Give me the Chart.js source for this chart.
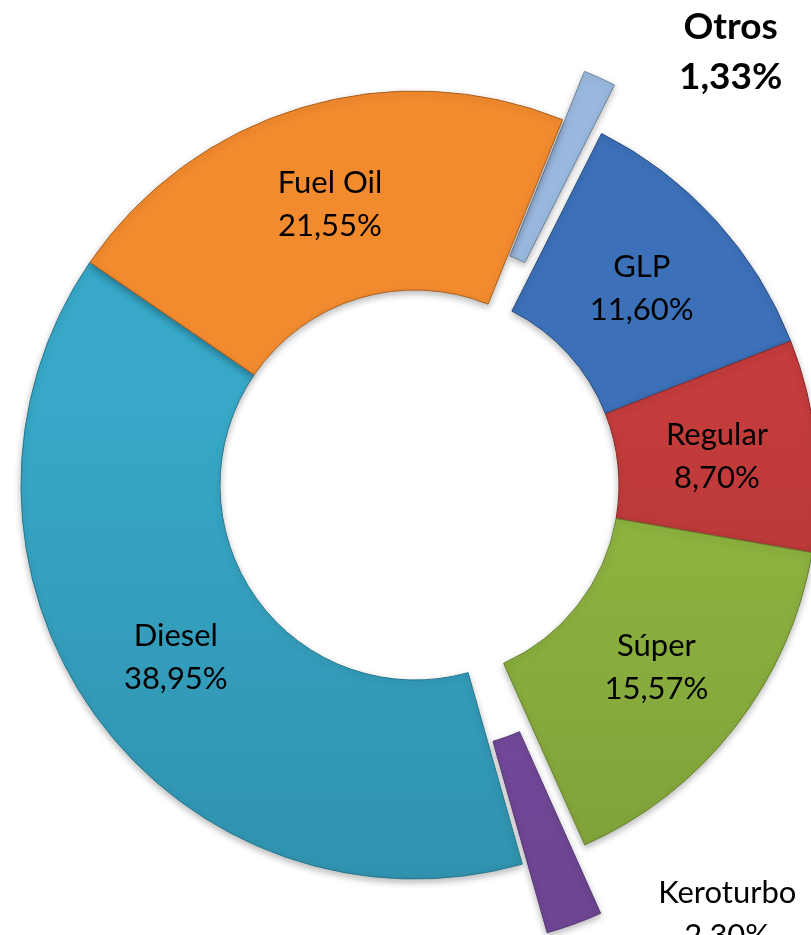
<!DOCTYPE html>
<html>
<head>
<meta charset="utf-8">
<script src="https://cdn.jsdelivr.net/npm/chart.js@4.4.1/dist/chart.umd.min.js"></script>
<style>
    html, body { margin: 0; padding: 0; background: #fff; overflow: hidden; }
    #wrap { position: relative; width: 811px; height: 935px; }
</style>
</head>
<body>
<div id="wrap"><canvas id="consumoChart"></canvas></div>
<script>
// datos del gráfico
const categorias = ['Otros', 'GLP', 'Regular', 'Súper', 'Keroturbo', 'Diesel', 'Fuel Oil'];
const porcentajes = [1.33, 11.60, 8.70, 15.57, 2.30, 38.95, 21.55];
const colores = ['#9AB8DE', '#3C70B8', '#C43C3C', '#92B941', '#7D4FA8', '#37A8C8', '#F28A2E'];

// porciones separadas del anillo (los índices de un grupo se mueven juntos)
const separaciones = [
    { indices: [0], dist: 53 },
    { indices: [1, 2, 3], dist: 9 },
    { indices: [4], dist: 73 }
];

// etiquetas que van fuera del anillo (ángulo desde arriba en grados, distancia al centro)
const etiquetasFuera = {
    0: { angulo: 36.0, dist: 537, negrita: true },
    4: { angulo: 143.9, dist: 530, negrita: false }
};

const formatear = (v) => v.toFixed(2).replace('.', ',') + '%';

const ajustarColor = (hex, f) => {
    const n = parseInt(hex.slice(1), 16);
    let r = (n >> 16) & 255, g = (n >> 8) & 255, b = n & 255;
    if (f >= 0) {
        r += (255 - r) * f; g += (255 - g) * f; b += (255 - b) * f;
    } else {
        r *= 1 + f; g *= 1 + f; b *= 1 + f;
    }
    return `rgb(${Math.round(r)}, ${Math.round(g)}, ${Math.round(b)})`;
};

const desplazamiento = (meta, i) => {
    for (const g of separaciones) {
        if (g.indices.includes(i)) {
            const a0 = meta.data[g.indices[0]].startAngle;
            const a1 = meta.data[g.indices[g.indices.length - 1]].endAngle;
            const mid = (a0 + a1) / 2;
            return { dx: Math.cos(mid) * g.dist, dy: Math.sin(mid) * g.dist };
        }
    }
    return { dx: 0, dy: 0 };
};

const dibujarTexto = (ctx, lineas, x, y, tam, negrita, salto) => {
    ctx.save();
    ctx.font = `${negrita ? 'bold ' : ''}${tam}px Lato, "Open Sans", sans-serif`;
    ctx.fillStyle = '#000';
    ctx.textAlign = 'center';
    ctx.textBaseline = 'alphabetic';
    const cap = tam * 0.36;
    lineas.forEach((t, k) => {
        const yy = y + (k - (lineas.length - 1) / 2) * salto + cap;
        ctx.fillText(t, x, yy);
    });
    ctx.restore();
};

const separarPlugin = {
    id: 'separar',
    beforeDatasetsDraw(chart) {
        const meta = chart.getDatasetMeta(0);
        meta.data.forEach((arc, i) => {
            const d = desplazamiento(meta, i);
            arc.x += d.dx;
            arc.y += d.dy;
        });
        const ctx = chart.ctx;
        ctx.save();
        ctx.shadowColor = 'rgba(0, 0, 0, 0.28)';
        ctx.shadowBlur = 7;
        ctx.shadowOffsetY = 3;
    },
    afterDatasetsDraw(chart) {
        const ctx = chart.ctx;
        ctx.restore();
        const meta = chart.getDatasetMeta(0);
        const area = chart.chartArea;
        const cx = (area.left + area.right) / 2;
        const cy = (area.top + area.bottom) / 2;

        meta.data.forEach((arc, i) => {
            const lineas = [categorias[i], formatear(porcentajes[i])];
            const fuera = etiquetasFuera[i];
            if (fuera) {
                const a = (fuera.angulo - 90) * Math.PI / 180;
                const x = cx + Math.cos(a) * fuera.dist;
                const y = cy + Math.sin(a) * fuera.dist;
                if (fuera.negrita) {
                    dibujarTexto(ctx, lineas, x, y, 37, true, 50);
                } else {
                    dibujarTexto(ctx, lineas, x, y, 31, false, 43);
                }
            } else {
                const mid = (arc.startAngle + arc.endAngle) / 2;
                const rr = (arc.innerRadius + arc.outerRadius) / 2;
                dibujarTexto(ctx, lineas, arc.x + Math.cos(mid) * rr, arc.y + Math.sin(mid) * rr, 31, false, 43);
            }
        });

        // devolver las porciones a su sitio
        meta.data.forEach((arc, i) => {
            const d = desplazamiento(meta, i);
            arc.x -= d.dx;
            arc.y -= d.dy;
        });
    }
};

const ctx = document.getElementById('consumoChart').getContext('2d');
new Chart(ctx, {
    type: 'doughnut',
    data: {
        labels: categorias,
        datasets: [{
            data: porcentajes,
            backgroundColor: (c) => {
                const base = colores[c.dataIndex];
                const area = c.chart.chartArea;
                if (!area) return base;
                const g = c.chart.ctx.createLinearGradient(0, area.top, 0, area.bottom);
                g.addColorStop(0, base);
                g.addColorStop(0.4, base);
                g.addColorStop(1, ajustarColor(base, -0.13));
                return g;
            },
            borderColor: colores.map(c => ajustarColor(c, -0.3)),
            borderWidth: 1,
            hoverOffset: 0,
            offset: 0,
            clip: false
        }]
    },
    options: {
        responsive: true,
        maintainAspectRatio: false,
        animation: false,
        cutout: '49.5%',
        rotation: 22,
        layout: {
            padding: { left: 20.5, right: 1.5, top: 90.5, bottom: 55.5 }
        },
        plugins: {
            legend: { display: false },
            tooltip: { enabled: false }
        }
    },
    plugins: [separarPlugin]
});
</script>
</body>
</html>
